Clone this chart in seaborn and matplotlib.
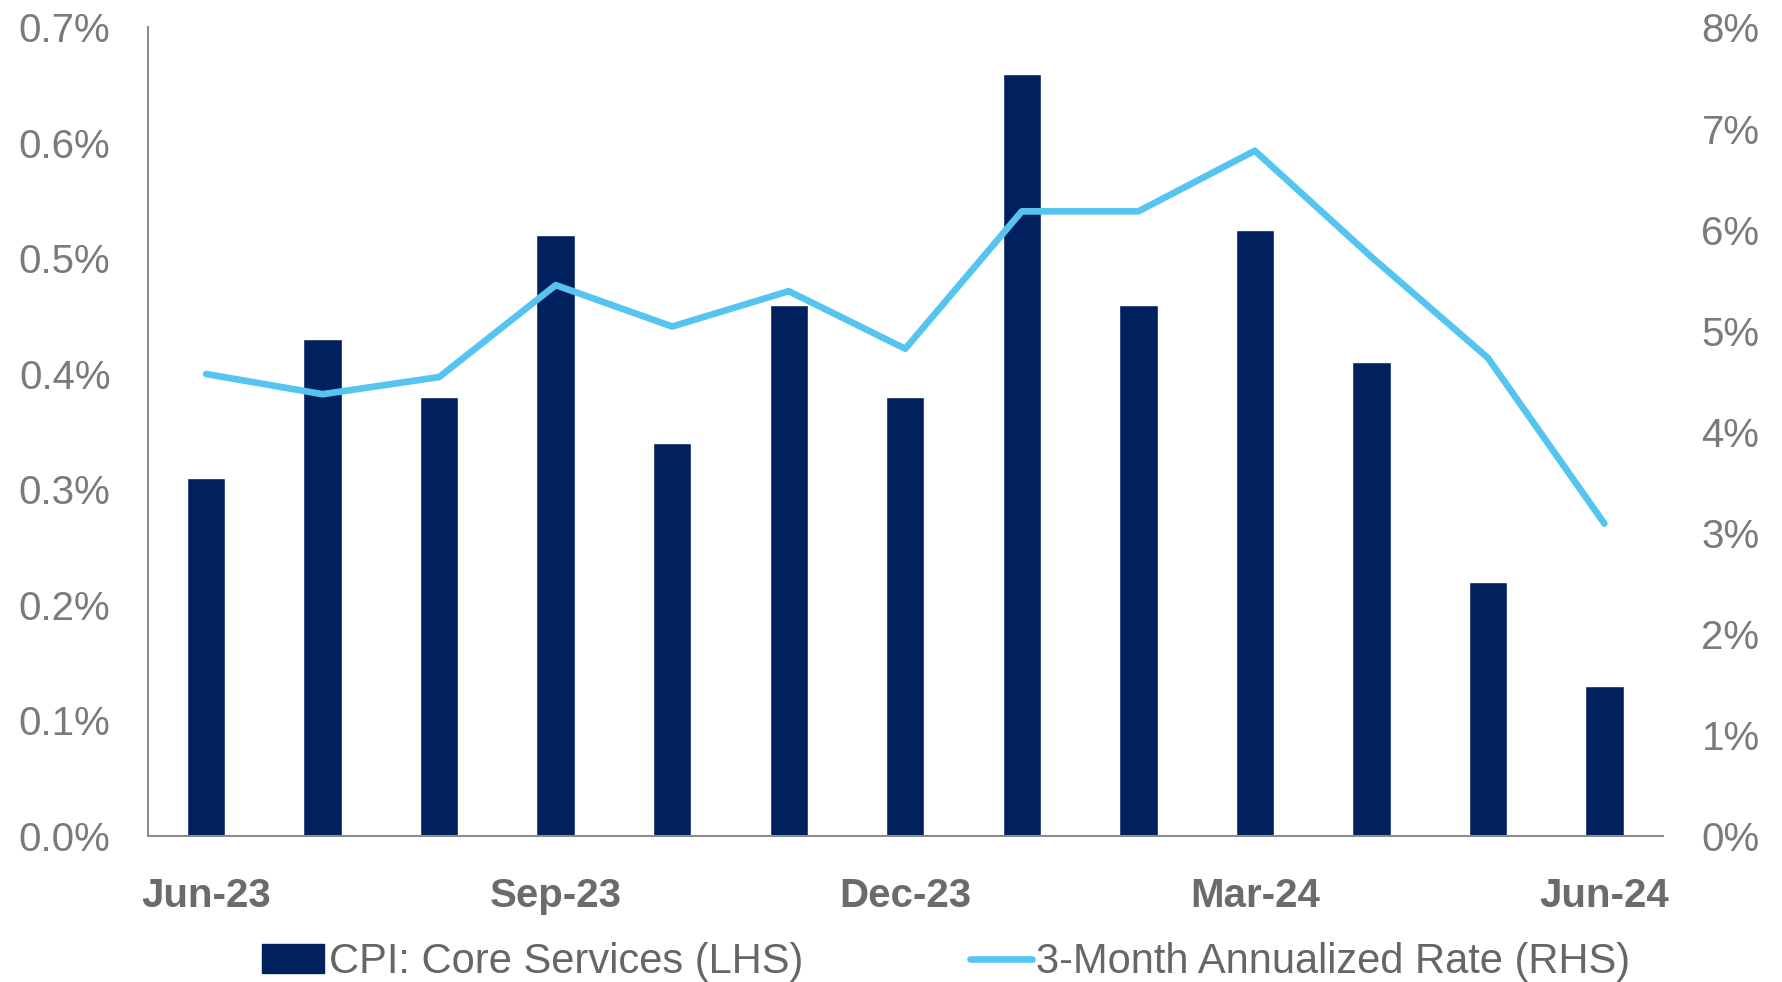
import pandas as pd
import matplotlib.pyplot as plt
from matplotlib.patches import Patch
from matplotlib.lines import Line2D
from matplotlib.ticker import FuncFormatter, MultipleLocator
import seaborn as sns

# Dati
months = ["Jun-23", "Jul-23", "Aug-23", "Sep-23", "Oct-23", "Nov-23", "Dec-23",
          "Jan-24", "Feb-24", "Mar-24", "Apr-24", "May-24", "Jun-24"]
core_services = [0.31, 0.43, 0.38, 0.52, 0.34, 0.46, 0.38,
                 0.66, 0.46, 0.525, 0.41, 0.22, 0.13]
annualized_3m = [4.57, 4.37, 4.54, 5.45, 5.04, 5.39, 4.82,
                 6.18, 6.18, 6.78, 5.73, 4.73, 3.09]
shown_ticks = ["Jun-23", "Sep-23", "Dec-23", "Mar-24", "Jun-24"]

navy = "#00215E"
light_blue = "#55C5F0"
gray = "#7a7a7a"

df = pd.DataFrame({"month": months, "core": core_services, "rate": annualized_3m})
df["pos"] = range(len(df))

sns.set_style("white")
plt.rcParams["font.family"] = ["Liberation Sans", "DejaVu Sans"]

fig = plt.figure(figsize=(17.82, 9.82), dpi=100)
ax = fig.add_axes([0.083, 0.149, 0.85, 0.823])

sns.barplot(data=df, x="month", y="core", color=navy, width=0.33,
            saturation=1, ax=ax)
ax.set_xlim(-0.5, 12.5)
ax.set_ylim(0, 0.7)
ax.yaxis.set_major_locator(MultipleLocator(0.1))
ax.yaxis.set_major_formatter(FuncFormatter(lambda v, p: f"{v:.1f}%"))
ax.set_xlabel("")
ax.set_ylabel("")

ax2 = ax.twinx()
sns.lineplot(data=df, x="pos", y="rate", color=light_blue, linewidth=4.8,
             ax=ax2, legend=False)
ax2.set_ylim(0, 8)
ax2.yaxis.set_major_locator(MultipleLocator(1))
ax2.yaxis.set_major_formatter(FuncFormatter(lambda v, p: f"{v:.0f}%"))
ax2.set_xlim(-0.5, 12.5)
ax2.set_ylabel("")
ax2.set_xlabel("")

ax.set_xticks([months.index(m) for m in shown_ticks])
ax.set_xticklabels(shown_ticks, fontweight="bold", fontsize=29)

for a in (ax, ax2):
    for s in a.spines.values():
        s.set_visible(False)
    a.grid(False)
ax.spines["left"].set_visible(True)
ax.spines["bottom"].set_visible(True)
ax.spines["left"].set_color("#8c8c8c")
ax.spines["bottom"].set_color("#8c8c8c")
ax.spines["left"].set_linewidth(1.5)
ax.spines["bottom"].set_linewidth(1.5)

ax.tick_params(axis="y", length=0, labelsize=29, labelcolor=gray, pad=27)
ax.tick_params(axis="x", length=0, labelcolor="#6b6b6b", pad=30)
ax2.tick_params(axis="y", length=0, labelsize=29, labelcolor=gray, pad=28)

handles = [Patch(facecolor=navy, edgecolor=navy),
           Line2D([0], [0], color=light_blue, linewidth=4.8)]
labels = ["CPI: Core Services (LHS)", "3-Month Annualized Rate (RHS)"]
fig.legend(handles, labels, loc="center", bbox_to_anchor=(0.531, 0.02),
           ncol=2, frameon=False, columnspacing=4.0, handlelength=1.5,
           handletextpad=0.1, prop={"size": 30}, labelcolor="#666666")

fig.savefig("out.png", dpi=100)
